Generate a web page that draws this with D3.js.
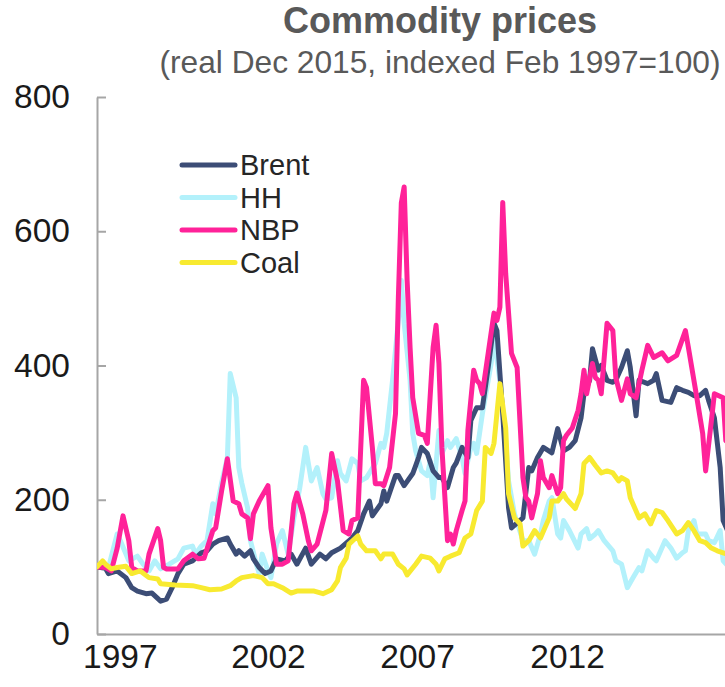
<!DOCTYPE html>
<html><head><meta charset="utf-8">
<script src="https://cdn.jsdelivr.net/npm/d3@7"></script>
<style>
html,body{margin:0;padding:0;background:#fff;}
svg{display:block;font-family:"Liberation Sans",Arial,sans-serif;}
</style></head>
<body><svg id="chart" width="725" height="687"></svg>
<script>
// ---- data (index, Feb 1997 = 100) ----
const seriesNames = ["Brent","HH","NBP","Coal"];
const xTickLabels = ["1997","2002","2007","2012"];
const xTickDates = ["1997-09-29","2002-01-01","2006-04-16","2010-08-07"];
const yTicks = [0,200,400,600,800];

const brent = [["1997-02",100],["1997-05",98],["1997-06",90],["1997-09",94],["1997-12",84],["1998-02",69],["1998-04",64],["1998-07",60],["1998-09",61],["1998-12",49],["1999-02",52],["1999-04",69],["1999-06",90],["1999-08",104],["1999-11",109],["2000-02",121],["2000-04",124],["2000-06",134],["2000-08",139],["2000-11",143],["2000-12",134],["2001-02",119],["2001-03",124],["2001-05",116],["2001-07",124],["2001-08",112],["2001-10",99],["2001-12",90],["2002-02",94],["2002-04",112],["2002-07",109],["2002-09",119],["2002-11",104],["2003-02",128],["2003-04",104],["2003-07",119],["2003-09",112],["2003-11",121],["2004-02",128],["2004-06",143],["2004-08",154],["2004-10",179],["2004-12",198],["2005-01",176],["2005-04",194],["2005-05",213],["2005-06",198],["2005-09",236],["2005-10",236],["2005-12",221],["2006-03",239],["2006-04",251],["2006-05",263],["2006-06",278],["2006-08",269],["2006-10",243],["2006-12",233],["2007-01",233],["2007-03",218],["2007-05",248],["2007-06",255],["2007-08",278],["2007-10",263],["2007-11",318],["2008-01",337],["2008-03",337],["2008-05",397],["2008-07",463],["2008-08",452],["2008-10",328],["2008-12",188],["2009-01",158],["2009-05",173],["2009-07",248],["2009-08",243],["2009-10",263],["2009-12",278],["2010-03",270],["2010-05",306],["2010-07",273],["2010-09",278],["2010-11",288],["2011-01",322],["2011-02",358],["2011-04",378],["2011-05",425],["2011-07",393],["2011-08",400],["2011-10",378],["2011-12",375],["2012-01",378],["2012-03",397],["2012-05",422],["2012-06",397],["2012-08",325],["2012-09",378],["2012-12",373],["2013-02",378],["2013-03",388],["2013-05",348],["2013-08",345],["2013-10",367],["2013-12",363],["2014-02",360],["2014-04",355],["2014-06",355],["2014-08",363],["2014-09",348],["2014-11",322],["2015-01",248],["2015-02",169],["2015-04",150]];

const hh = [["1997-02",100],["1997-06",99],["1997-09",149],["1997-10",140],["1998-01",109],["1998-04",116],["1998-06",104],["1998-08",94],["1998-10",109],["1998-12",97],["1999-03",104],["1999-06",112],["1999-08",128],["1999-11",131],["1999-12",119],["2000-02",131],["2000-04",139],["2000-06",194],["2000-07",179],["2000-09",225],["2000-11",263],["2000-12",388],["2001-02",352],["2001-03",248],["2001-04",225],["2001-06",188],["2001-07",139],["2001-09",104],["2001-10",90],["2001-11",119],["2002-01",94],["2002-02",84],["2002-04",134],["2002-06",154],["2002-08",119],["2002-10",173],["2002-12",218],["2003-02",278],["2003-04",228],["2003-06",248],["2003-08",209],["2003-09",201],["2003-11",203],["2004-01",258],["2004-02",239],["2004-04",228],["2004-06",261],["2004-08",254],["2004-09",228],["2004-11",233],["2005-02",254],["2005-04",284],["2005-05",278],["2005-06",299],["2005-08",378],["2005-10",467],["2005-11",527],["2005-12",463],["2006-02",378],["2006-03",299],["2006-04",273],["2006-06",243],["2006-08",236],["2006-09",258],["2006-10",203],["2006-12",303],["2007-01",269],["2007-03",288],["2007-04",278],["2007-06",291],["2007-08",263],["2007-09",239],["2007-11",278],["2007-12",284],["2008-01",269],["2008-03",328],["2008-06",403],["2008-07",442],["2008-09",378],["2008-11",288],["2008-12",228],["2009-02",179],["2009-05",139],["2009-07",139],["2009-09",119],["2009-11",149],["2009-12",169],["2010-02",198],["2010-03",203],["2010-05",149],["2010-06",143],["2010-07",169],["2010-09",154],["2010-12",128],["2011-01",149],["2011-03",157],["2011-04",142],["2011-06",149],["2011-07",154],["2011-09",139],["2011-12",124],["2012-01",109],["2012-03",104],["2012-05",69],["2012-07",84],["2012-09",99],["2012-10",94],["2012-12",124],["2013-02",113],["2013-03",109],["2013-06",139],["2013-08",128],["2013-10",113],["2013-12",121],["2014-01",124],["2014-02",154],["2014-04",169],["2014-05",149],["2014-08",149],["2014-09",139],["2014-11",136],["2015-01",154],["2015-02",109],["2015-04",100]];

const nbp = [["1997-02",100],["1997-05",99],["1997-07",94],["1997-09",128],["1997-11",176],["1998-01",139],["1998-02",99],["1998-04",94],["1998-07",94],["1998-08",119],["1998-11",157],["1998-12",139],["1999-01",99],["1999-02",97],["1999-06",97],["1999-08",109],["1999-11",119],["2000-01",112],["2000-03",113],["2000-06",154],["2000-07",158],["2000-09",213],["2000-11",261],["2001-01",198],["2001-03",194],["2001-04",179],["2001-06",173],["2001-07",142],["2001-08",179],["2001-10",198],["2002-01",221],["2002-02",158],["2002-04",104],["2002-06",104],["2002-08",109],["2002-10",194],["2002-11",210],["2003-01",179],["2003-03",139],["2003-04",124],["2003-06",134],["2003-09",184],["2003-11",269],["2004-01",228],["2004-03",154],["2004-05",149],["2004-06",169],["2004-08",173],["2004-10",378],["2004-11",367],["2005-01",278],["2005-02",224],["2005-04",224],["2005-05",221],["2005-07",248],["2005-09",328],["2005-10",501],["2005-11",642],["2005-12",666],["2006-01",527],["2006-02",427],["2006-03",352],["2006-05",299],["2006-07",296],["2006-08",284],["2006-10",427],["2006-11",460],["2006-12",403],["2007-01",278],["2007-03",139],["2007-04",149],["2007-05",134],["2007-06",154],["2007-08",184],["2007-09",198],["2007-10",303],["2007-12",393],["2008-01",378],["2008-02",373],["2008-03",358],["2008-05",418],["2008-07",478],["2008-08",467],["2008-09",487],["2008-10",643],["2008-11",537],["2009-01",418],["2009-03",397],["2009-05",233],["2009-06",203],["2009-07",198],["2009-08",173],["2009-10",209],["2009-11",258],["2009-12",233],["2010-02",218],["2010-03",236],["2010-05",209],["2010-06",218],["2010-07",288],["2010-08",296],["2010-10",307],["2010-12",333],["2011-01",358],["2011-02",393],["2011-03",358],["2011-05",403],["2011-06",382],["2011-07",378],["2011-08",358],["2011-10",463],["2011-12",452],["2012-01",382],["2012-03",348],["2012-05",380],["2012-06",358],["2012-08",352],["2012-10",393],["2012-12",430],["2013-02",412],["2013-05",419],["2013-07",407],["2013-10",415],["2014-01",452],["2014-02",427],["2014-05",352],["2014-07",299],["2014-08",243],["2014-10",318],["2014-11",358],["2015-02",352],["2015-03",288],["2015-05",280]];

const coal = [["1997-02",100],["1997-04",109],["1997-05",104],["1997-07",97],["1997-09",99],["1997-12",101],["1998-02",90],["1998-05",94],["1998-08",84],["1998-11",82],["1998-12",75],["1999-05",73],["1999-11",72],["2000-02",69],["2000-05",66],["2000-09",67],["2000-12",72],["2001-02",79],["2001-04",84],["2001-08",87],["2001-11",84],["2002-01",75],["2002-03",75],["2002-06",69],["2002-09",61],["2002-11",64],["2003-02",64],["2003-05",64],["2003-08",60],["2003-11",66],["2004-01",79],["2004-02",99],["2004-04",113],["2004-05",134],["2004-08",146],["2004-09",134],["2004-11",124],["2005-02",124],["2005-04",112],["2005-05",119],["2005-08",119],["2005-10",104],["2005-12",97],["2006-01",88],["2006-04",104],["2006-06",116],["2006-09",113],["2006-11",104],["2006-12",94],["2007-02",112],["2007-04",116],["2007-07",121],["2007-09",143],["2007-11",149],["2008-01",184],["2008-03",198],["2008-04",278],["2008-06",269],["2008-07",284],["2008-09",373],["2008-11",307],["2008-12",209],["2009-02",173],["2009-04",164],["2009-05",131],["2009-07",139],["2009-09",154],["2009-11",143],["2010-02",173],["2010-03",198],["2010-05",198],["2010-07",209],["2010-08",201],["2010-11",187],["2011-01",209],["2011-02",254],["2011-04",263],["2011-06",251],["2011-08",240],["2011-10",243],["2011-12",240],["2012-02",228],["2012-03",233],["2012-05",228],["2012-06",203],["2012-09",173],["2012-11",179],["2013-01",164],["2013-03",184],["2013-05",181],["2013-07",169],["2013-10",149],["2013-12",154],["2014-02",166],["2014-04",154],["2014-06",139],["2014-08",136],["2014-10",128],["2014-12",124],["2015-02",121],["2015-04",118]];

const colors = {Brent:"#3c4d76", HH:"#b3f1fb", NBP:"#ff2299", Coal:"#f8ea30"};
const seriesData = {Brent:brent, HH:hh, NBP:nbp, Coal:coal};
const drawOrder = ["HH","Brent","NBP","Coal"];

// ---- drawing ----
const svg = d3.select("#chart");
const parseM = d3.timeParse("%Y-%m");
const parseD = d3.timeParse("%Y-%m-%d");
const mLeft = 97, mTop = 97, mBottom = 634, mRightEnd = 752;
const tickFont = 33.5;

const x = d3.scaleTime().domain([parseM("1997-02"), parseM("2015-12")]).range([mLeft, mRightEnd]);
const y = d3.scaleLinear().domain([0, 800]).range([mBottom, mTop]);

svg.append("defs").append("clipPath").attr("id","plotclip")
  .append("rect").attr("x", mLeft).attr("y", mTop - 10).attr("width", mRightEnd - mLeft).attr("height", mBottom - mTop + 10);

// title
svg.append("text").attr("x", 440).attr("y", 33).attr("text-anchor","middle")
  .attr("font-size", 36).attr("font-weight","bold").attr("fill","#595959").text("Commodity prices");
svg.append("text").attr("x", 440).attr("y", 73).attr("text-anchor","middle")
  .attr("font-size", 31.7).attr("fill","#595959").text("(real Dec 2015, indexed Feb 1997=100)");

// axes
const yAxis = d3.axisLeft(y).tickValues(yTicks).tickSize(-9).tickSizeOuter(0).tickPadding(27);
const gy = svg.append("g").attr("transform", `translate(${mLeft},0)`).call(yAxis);
gy.select(".domain").attr("stroke","#a6a6a6").attr("stroke-width",2);
gy.selectAll(".tick line").attr("stroke","#a6a6a6").attr("stroke-width",2);
gy.selectAll(".tick text").attr("font-size",tickFont).attr("fill","#1a1a1a").attr("font-family","Liberation Sans, Arial, sans-serif");

const xAxis = d3.axisBottom(x).tickValues(xTickDates.map(parseD))
  .tickFormat((d,i) => xTickLabels[i]).tickSize(0).tickSizeOuter(0).tickPadding(10);
const gx = svg.append("g").attr("transform", `translate(0,${mBottom})`).call(xAxis);
gx.select(".domain").attr("stroke","#a6a6a6").attr("stroke-width",2);
gx.selectAll(".tick text").attr("font-size",tickFont).attr("fill","#1a1a1a").attr("font-family","Liberation Sans, Arial, sans-serif");

// lines
const line = d3.line().x(d => x(parseM(d[0]))).y(d => y(d[1]));
const gLines = svg.append("g").attr("clip-path","url(#plotclip)");
drawOrder.forEach(name => {
  gLines.append("path").datum(seriesData[name])
    .attr("fill","none").attr("stroke", colors[name]).attr("stroke-width", 5)
    .attr("stroke-linejoin","round").attr("stroke-linecap","round")
    .attr("d", line);
});

// legend
const leg = svg.append("g").attr("transform","translate(182,165)");
seriesNames.forEach((name, i) => {
  const g = leg.append("g").attr("transform", `translate(0,${i*32.5})`);
  g.append("line").attr("x1",0).attr("x2",53).attr("y1",0).attr("y2",0)
    .attr("stroke", colors[name]).attr("stroke-width",5).attr("stroke-linecap","round");
  g.append("text").attr("x",58).attr("y",0).attr("dy","0.36em").attr("font-size",29)
    .attr("fill","#262626").text(name);
});
</script>
</body></html>
